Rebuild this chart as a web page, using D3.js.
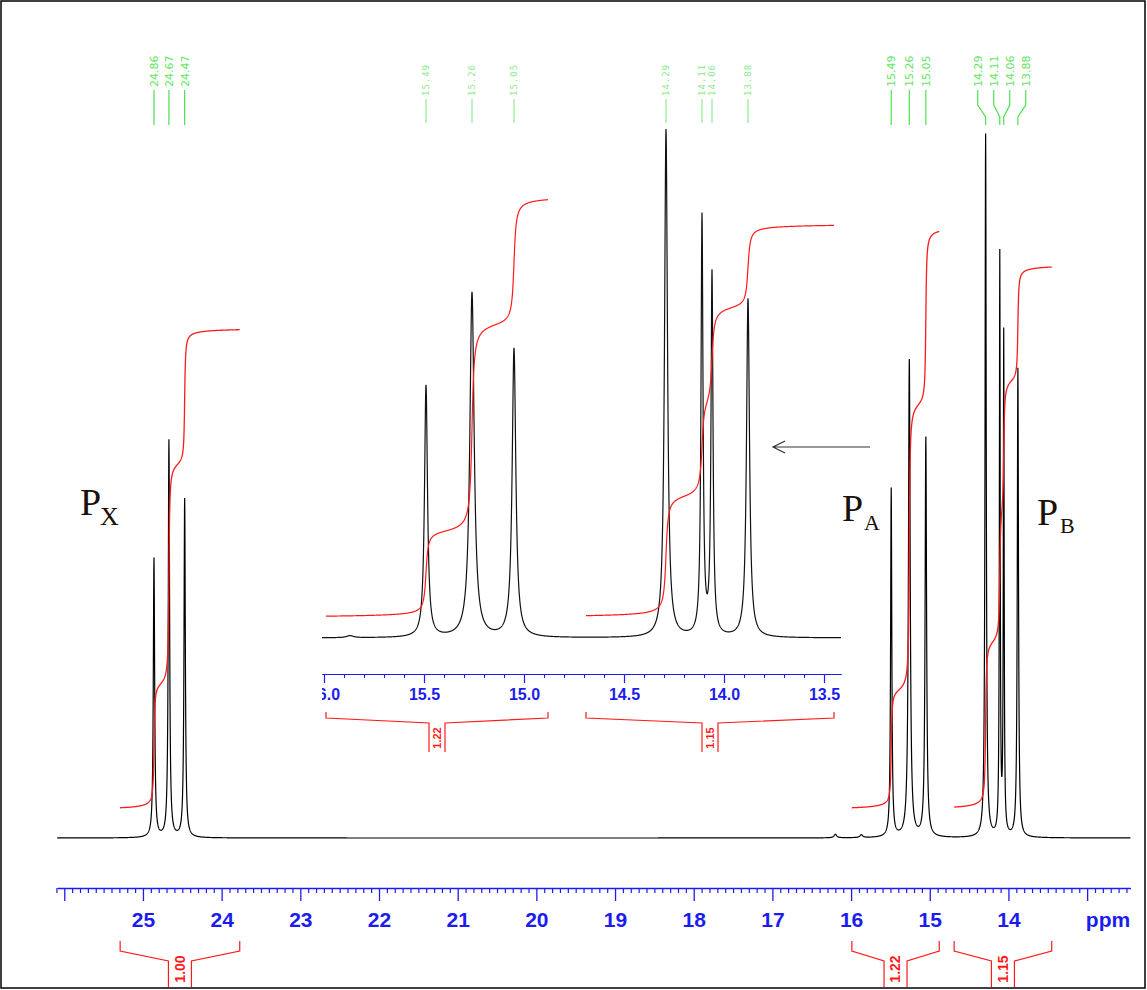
<!DOCTYPE html>
<html><head><meta charset="utf-8">
<script src="https://cdn.jsdelivr.net/npm/d3@7"></script>
<style>body{margin:0;background:#fff}svg{display:block}</style>
</head><body>
<svg id="c" width="1147" height="990"></svg>
<script>
// ---------- data ----------
const peakPpm    = [24.86, 24.67, 24.47, 15.49, 15.26, 15.05, 14.29, 14.11, 14.06, 13.88];
const peakHeight = [39.7, 56.5, 48.2, 49.6, 67.9, 56.8, 100, 82.4, 71.1, 66.7];
const peakWidth  = [0.010, 0.010, 0.010, 0.009, 0.013, 0.011, 0.009, 0.006, 0.006, 0.009];
const peakLabels = ["24.86", "24.67", "24.47", "15.49", "15.26", "15.05", "14.29", "14.11", "14.06", "13.88"];
const peakGroup  = [0, 0, 0, 1, 1, 1, 2, 2, 2, 2];
const minorPpm    = [16.20, 15.87];
const minorHeight = [0.5, 0.4];

const groupNames     = ["X", "A", "B"];
const integralStart  = [25.29, 15.99, 14.69];
const integralEnd    = [23.77, 14.88, 13.45];
const integralBase   = [4.3, 4.3, 4.4];
const integralSteps  = [[17.5, 32.0, 19.0], [16.5, 41.5, 25.0], [23.5, 19.0, 19.0, 16.0]];
const integralLabels = ["1.00", "1.22", "1.15"];
const insetGroups    = [1, 2];

const mainTickValues  = [26, 25, 24, 23, 22, 21, 20, 19, 18, 17, 16, 15, 14, 13];
const mainTickLabels  = ["", "25", "24", "23", "22", "21", "20", "19", "18", "17", "16", "15", "14", ""];
const insetTickValues = [16.0, 15.5, 15.0, 14.5, 14.0, 13.5];
const insetTickLabels = ["16.0", "15.5", "15.0", "14.5", "14.0", "13.5"];

// ---------- setup ----------
const svg = d3.select("#c");
const BLUE = "#1c1cf0", RED = "#ff1a1a", GREEN = "#4ee04e";

const xMain = d3.scaleLinear().domain([26.09, 12.45]).range([57.2, 1130.4]);
const yMain = d3.scaleLinear().domain([0, 100]).range([838, 135]);
const xIn = d3.scaleLinear().domain([16.01, 13.415]).range([322, 841]);
const yIn = d3.scaleLinear().domain([0, 100]).range([638, 130]);

function spec(p) {
  let s = 0;
  for (let i = 0; i < peakPpm.length; i++) {
    const d = (p - peakPpm[i]) / peakWidth[i];
    s += peakHeight[i] / (1 + d * d);
  }
  for (let i = 0; i < minorPpm.length; i++) {
    const d = (p - minorPpm[i]) / 0.02;
    s += minorHeight[i] / (1 + d * d);
  }
  return s;
}
function samples(a, b, step) {
  const arr = d3.range(a, b, -step).concat(peakPpm.filter(p => p < a && p > b));
  arr.push(b);
  return arr.sort((u, v) => v - u);
}
const IW = 0.008;
function S(p, p0) { return 0.5 + Math.atan((p0 - p) / IW) / Math.PI; }
function integ(g, p) {
  const pk = peakPpm.filter((_, i) => peakGroup[i] === g);
  let v = integralBase[g];
  pk.forEach((p0, j) => { v += integralSteps[g][j] * (S(p, p0) - S(integralStart[g], p0)); });
  return v;
}

// frame
svg.append("rect").attr("x", 1).attr("y", 1).attr("width", 1144).attr("height", 987)
  .attr("fill", "none").attr("stroke", "#000").attr("stroke-width", 1.5);

// ---------- main spectrum ----------
const lineMain = d3.line().x(p => xMain(p)).y(p => yMain(spec(p)));
svg.append("path").datum(samples(26.09, 12.45, 0.002)).attr("d", lineMain)
  .attr("fill", "none").attr("stroke", "#000").attr("stroke-width", 1.2);

// main integrals
[0, 1, 2].forEach(g => {
  const pts = d3.range(integralStart[g], integralEnd[g], -0.002).concat([integralEnd[g]]);
  svg.append("path").datum(pts)
    .attr("d", d3.line().x(p => xMain(p)).y(p => yMain(integ(g, p))))
    .attr("fill", "none").attr("stroke", RED).attr("stroke-width", 1.3);
});

// main axis
const gAx = svg.append("g").attr("transform", "translate(0,888)");
const minorVals = d3.range(261, 124, -1).map(v => v / 10).filter(v => Math.abs(v - Math.round(v)) > 1e-6);
gAx.append("g").call(d3.axisBottom(xMain).tickValues(minorVals).tickSize(5).tickSizeOuter(0).tickFormat(""))
  .call(g => g.selectAll("line,path").attr("stroke", BLUE).attr("stroke-width", 1.2));
gAx.append("g").call(d3.axisBottom(xMain).tickValues(mainTickValues).tickSize(13).tickSizeOuter(0)
    .tickPadding(11).tickFormat((d, i) => mainTickLabels[i]))
  .call(g => g.selectAll("line,path").attr("stroke", BLUE).attr("stroke-width", 1.3))
  .call(g => g.selectAll("text").attr("fill", BLUE).attr("font-family", "Liberation Sans, Arial, sans-serif")
    .attr("font-weight", "bold").attr("font-size", 21));
gAx.append("text").attr("x", 1108).attr("y", 24).attr("dy", "0.71em").attr("text-anchor", "middle")
  .attr("fill", BLUE).attr("font-family", "Liberation Sans, Arial, sans-serif").attr("font-weight", "bold")
  .attr("font-size", 21).text("ppm");

// integral brackets
function bracket(parent, x, p0, p1, yTop, d1, d2, half, yBot, fs, label, ty) {
  const a = x(p0), b = x(p1), c = (a + b) / 2;
  const g = parent.append("g").attr("fill", "none").attr("stroke", RED).attr("stroke-width", 1.2);
  g.append("path").attr("d", `M${a},${yTop}V${yTop + d1}L${c - half},${yTop + d1 + d2}V${yBot}`);
  g.append("path").attr("d", `M${b},${yTop}V${yTop + d1}L${c + half},${yTop + d1 + d2}V${yBot}`);
  parent.append("text").attr("transform", `translate(${c},${ty}) rotate(-90)`).attr("dy", "0.35em")
    .attr("text-anchor", "middle").attr("fill", RED).attr("font-family", "Liberation Sans, Arial, sans-serif")
    .attr("font-weight", "bold").attr("font-size", fs).text(label);
}
[0, 1, 2].forEach(g => bracket(svg, xMain, integralStart[g], integralEnd[g], 941, 10, 10, 11.5, 987, 14, integralLabels[g], 969));

// main peak labels
const gLab = svg.append("g");
[0, 1, 2].forEach(g => {
  const idx = peakPpm.map((_, i) => i).filter(i => peakGroup[i] === g);
  const xs = idx.map(i => xMain(peakPpm[i]));
  const minGap = d3.min(d3.pairs(xs), ([u, v]) => v - u);
  const mean = d3.mean(xs);
  const tops = minGap < 12 ? xs.map((_, k) => mean + (k - (xs.length - 1) / 2) * 16) : xs;
  idx.forEach((i, k) => {
    gLab.append("path").attr("d", `M${tops[k]},90V105L${xs[k]},117V125`)
      .attr("fill", "none").attr("stroke", GREEN).attr("stroke-width", 1.2);
    gLab.append("text").attr("transform", `translate(${tops[k]},87) rotate(-90)`).attr("dy", "0.35em")
      .attr("fill", "#5fe65f").attr("font-family", "DejaVu Sans, sans-serif").attr("font-size", 11)
      .text(peakLabels[i]);
  });
});

// ---------- inset ----------
const clipIn = svg.append("clipPath").attr("id", "clipIn");
clipIn.append("rect").attr("x", 322).attr("y", 0).attr("width", 530).attr("height", 800);
const gIn = svg.append("g").attr("clip-path", "url(#clipIn)");
const inRange = samples(16.01, 13.415, 0.001);
gIn.append("path").datum(inRange)
  .attr("d", d3.line().x(p => xIn(p)).y(p => yIn(spec(p))))
  .attr("fill", "none").attr("stroke", "#111").attr("stroke-width", 1.2);
insetGroups.forEach(g => {
  const pts = d3.range(integralStart[g], integralEnd[g], -0.001).concat([integralEnd[g]]);
  gIn.append("path").datum(pts)
    .attr("d", d3.line().x(p => xIn(p)).y(p => yIn(integ(g, p))))
    .attr("fill", "none").attr("stroke", RED).attr("stroke-width", 1.2);
});
const gAxIn = gIn.append("g").attr("transform", "translate(0,674)");
const inMinor = d3.range(160, 134, -1).map(v => v / 10).filter(v => Math.abs(v * 2 - Math.round(v * 2)) > 1e-6);
gAxIn.append("g").call(d3.axisBottom(xIn).tickValues(inMinor).tickSize(4).tickSizeOuter(0).tickFormat(""))
  .call(g => g.selectAll("line,path").attr("stroke", BLUE).attr("stroke-width", 1.1));
gAxIn.append("g").call(d3.axisBottom(xIn).tickValues(insetTickValues).tickSize(9).tickSizeOuter(0)
    .tickPadding(6).tickFormat((d, i) => insetTickLabels[i]))
  .call(g => g.selectAll("line,path").attr("stroke", BLUE).attr("stroke-width", 1.2))
  .call(g => g.selectAll("text").attr("fill", BLUE).attr("font-family", "Liberation Sans, Arial, sans-serif")
    .attr("font-weight", "bold").attr("font-size", 16));
insetGroups.forEach(g => bracket(gIn, xIn, integralStart[g], integralEnd[g], 712, 6, 5, 8, 752, 11, integralLabels[g], 738));
// inset peak labels
peakPpm.forEach((p, i) => {
  if (p > 16.01 || p < 13.415) return;
  const x = xIn(p);
  svg.append("line").attr("x1", x).attr("x2", x).attr("y1", 99).attr("y2", 123)
    .attr("stroke", "#7be97b").attr("stroke-width", 1);
  svg.append("text").attr("transform", `translate(${x},96) rotate(-90)`).attr("dy", "0.35em")
    .attr("fill", "#8aec8a").attr("font-family", "DejaVu Sans Mono, monospace").attr("font-size", 9)
    .attr("letter-spacing", 1).text(peakLabels[i]);
});

// arrow
svg.append("path").attr("d", "M870,447H773M785,441L773,447L785,453")
  .attr("fill", "none").attr("stroke", "#333").attr("stroke-width", 1.2);

// group labels
const serif = "Liberation Serif, Times New Roman, serif";
const labPos = [[80, 515, 100, 525, 26], [842, 521, 864, 530, 22], [1037, 525, 1060, 533, 22]];
groupNames.forEach((n, g) => {
  const [px, py, sx, sy, fs] = labPos[g];
  svg.append("text").attr("x", px).attr("y", py).attr("font-family", serif).attr("font-size", 38)
    .attr("fill", "#1a1208").text("P");
  svg.append("text").attr("x", sx).attr("y", sy).attr("font-family", serif).attr("font-size", fs)
    .attr("fill", "#1a1208").text(n);
});
</script>
</body></html>
